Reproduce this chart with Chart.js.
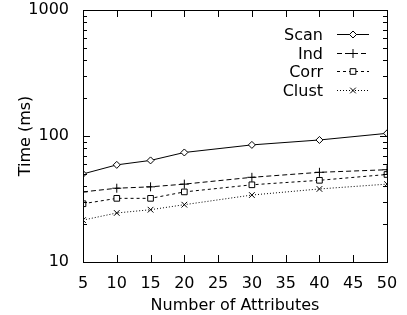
<!DOCTYPE html>
<html>
<head>
<meta charset="utf-8">
<script src="https://cdn.jsdelivr.net/npm/chart.js@4.4.1/dist/chart.umd.min.js"></script>
<style>
  html, body { margin: 0; padding: 0; background: #fff; }
  #wrap { width: 407px; height: 315px; }
</style>
</head>
<body>
<div id="wrap"><canvas id="myChart" width="407" height="315"></canvas></div>
<script>
// data
var attributes = [5, 10, 15, 20, 30, 40, 50];
var scanTimes  = [50, 59, 64, 74, 85, 93, 105];
var indTimes   = [36, 38.5, 39.5, 41.5, 47, 51.5, 54];
var corrTimes  = [29, 32, 32, 36, 41, 44.5, 49.5];
var clustTimes = [21.5, 24.5, 26, 28.5, 34, 38, 41.5];
var xTicks = [5, 10, 15, 20, 25, 30, 35, 40, 45, 50];
var yTicks = [10, 100, 1000];

var font = { family: '"DejaVu Sans", sans-serif', size: 16 };

function pts(vals) {
    return attributes.map(function (a, i) { return { x: a, y: vals[i] }; });
}

// gnuplot-ish frame, inward ticks, and key in the top right
var framePlugin = {
    id: 'frame',
    afterDatasetsDraw: function (chart) {
        var ctx = chart.ctx;
        var a = chart.chartArea;
        var xs = chart.scales.x, ys = chart.scales.y;
        ctx.save();
        ctx.strokeStyle = '#000';
        ctx.lineWidth = 1;
        ctx.setLineDash([]);
        ctx.strokeRect(Math.round(a.left) + 0.5, Math.round(a.top) + 0.5,
            Math.round(a.right - a.left), Math.round(a.bottom - a.top));

        ctx.beginPath();
        xTicks.forEach(function (v) {
            var px = Math.round(xs.getPixelForValue(v)) + 0.5;
            ctx.moveTo(px, a.bottom); ctx.lineTo(px, a.bottom - 7);
            ctx.moveTo(px, a.top); ctx.lineTo(px, a.top + 7);
        });
        for (var d = 10; d < 1000; d *= 10) {
            for (var m = 1; m <= 10; m++) {
                var py = Math.round(ys.getPixelForValue(d * m)) + 0.5;
                var len = (m === 1 || m === 10) ? 7 : 4;
                ctx.moveTo(a.left, py); ctx.lineTo(a.left + len, py);
                ctx.moveTo(a.right, py); ctx.lineTo(a.right - len, py);
            }
        }
        ctx.stroke();

        // key
        var rowY = a.top + 24;
        var textRight = a.right - 64;
        var lineL = a.right - 50, lineR = a.right - 18;
        ctx.font = font.size + 'px ' + font.family;
        ctx.textAlign = 'right';
        ctx.textBaseline = 'middle';
        chart.data.datasets.forEach(function (ds, i) {
            var y = Math.round(rowY + i * 18.5) + 0.5;
            ctx.fillStyle = '#000';
            ctx.fillText(ds.label, textRight, y + 1);
            ctx.setLineDash(ds.borderDash || []);
            ctx.beginPath();
            ctx.moveTo(lineL, y); ctx.lineTo(lineR, y);
            ctx.stroke();
            ctx.setLineDash([]);
            ctx.fillStyle = '#fff';
            Chart.helpers.drawPoint(ctx, {
                pointStyle: ds.pointStyle, radius: ds.pointRadius, rotation: 0,
                borderWidth: 1
            }, (lineL + lineR) / 2, y);
        });
        ctx.restore();
    }
};

var ctx = document.getElementById('myChart').getContext('2d');
var chart = new Chart(ctx, {
    type: 'line',
    data: {
        datasets: [
            { label: 'Scan', data: pts(scanTimes), pointStyle: 'rectRot', pointRadius: 3.5, borderDash: [] },
            { label: 'Ind', data: pts(indTimes), pointStyle: 'cross', pointRadius: 4.5, borderDash: [5, 3] },
            { label: 'Corr', data: pts(corrTimes), pointStyle: 'rect', pointRadius: 4, borderDash: [3, 3] },
            { label: 'Clust', data: pts(clustTimes), pointStyle: 'crossRot', pointRadius: 4, borderDash: [1, 2] }
        ].map(function (ds) {
            ds.borderColor = '#000';
            ds.backgroundColor = '#fff';
            ds.pointBorderColor = '#000';
            ds.pointBackgroundColor = '#fff';
            ds.borderWidth = 1;
            ds.pointBorderWidth = 1;
            ds.tension = 0;
            ds.fill = false;
            return ds;
        })
    },
    options: {
        responsive: false,
        animation: false,
        layout: { padding: { left: 0, top: 10, right: 20, bottom: 0 } },
        plugins: {
            legend: { display: false },
            tooltip: { enabled: false }
        },
        scales: {
            x: {
                type: 'linear',
                min: 5,
                max: 50,
                grid: { display: false },
                border: { display: false },
                afterBuildTicks: function (s) { s.ticks = xTicks.map(function (v) { return { value: v }; }); },
                afterFit: function (s) { s.height = 53; },
                ticks: { color: '#000', font: font, padding: 4, maxRotation: 0, autoSkip: false },
                title: { display: true, text: 'Number of Attributes', color: '#000', font: font, padding: { top: -5, bottom: 0 } }
            },
            y: {
                type: 'logarithmic',
                min: 10,
                max: 1000,
                grid: { display: false },
                border: { display: false },
                afterBuildTicks: function (s) { s.ticks = yTicks.map(function (v) { return { value: v }; }); },
                afterFit: function (s) { s.width = 83; s.paddingTop = 0; s.paddingBottom = 0; },
                ticks: { color: '#000', font: font, padding: 6, callback: function (v) { return String(v); } },
                title: { display: true, text: 'Time (ms)', color: '#000', font: font, padding: { top: 16, bottom: 0 } }
            }
        }
    },
    plugins: [framePlugin]
});
</script>
</body>
</html>
